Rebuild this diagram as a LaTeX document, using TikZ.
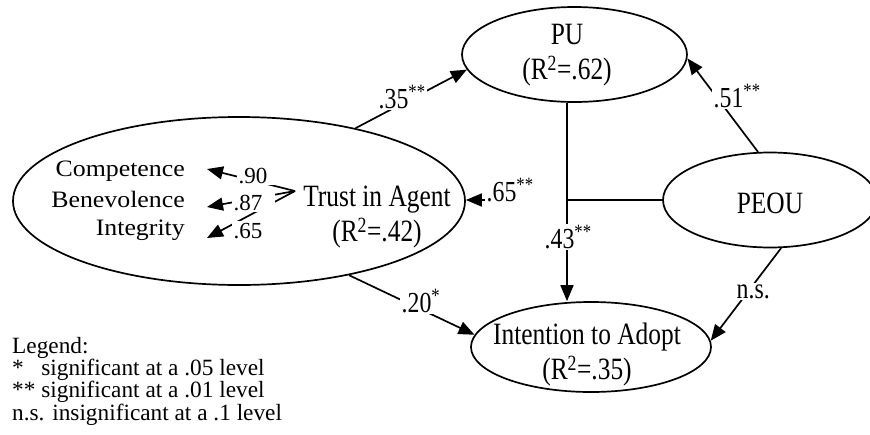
\documentclass[tikz,border=0pt]{standalone}
\usepackage{fontspec}
\setmainfont{Liberation Serif}
\newfontfamily\condfont{Liberation Serif}[FakeStretch=0.82]
\newfontfamily\widefont{Liberation Serif}[FakeStretch=1.1]
\usetikzlibrary{arrows.meta,shapes.geometric}

\tikzset{
  construct/.style={draw, ellipse, line width=1.7pt, inner sep=0pt},
  conlabel/.style={font=\condfont\fontsize{31}{35}\selectfont, align=center, inner sep=0pt},
  link/.style={line width=1.7pt},
  arr/.style={link, -{Triangle[length=16pt,width=13pt]}},
  coef/.style={font=\condfont\fontsize{29}{33}\selectfont, fill=white, inner sep=1.5pt},
  loading/.style={font=\fontsize{23}{27}\selectfont, fill=white, inner sep=1.5pt, align=left},
  indic/.style={font=\widefont\fontsize{23.5}{28}\selectfont, inner sep=0pt},
  legendtext/.style={font=\fontsize{23.3}{22.3}\selectfont, align=left, inner sep=0pt},
}

\begin{document}
\begin{tikzpicture}[x=1pt,y=-1pt]
\useasboundingbox (0,0) rectangle (870,434);

% latent constructs
\node[construct, minimum width=452pt, minimum height=168pt] (trust)  at (239,201)   {};
\node[construct, minimum width=225pt, minimum height=95pt]  (pu)     at (574.5,54.5) {};
\node[construct, minimum width=214pt, minimum height=95pt]  (peou)   at (770,200)   {};
\node[construct, minimum width=240pt, minimum height=90pt]  (intent) at (591,347)   {};

% construct names
\node[conlabel] (puT)     at (567,55.5) {PU\\(R\textsuperscript{2}=.62)};
\node[conlabel] (intentT) at (587,355)  {Intention to Adopt\\(R\textsuperscript{2}=.35)};
\node[conlabel, anchor=base] (peouT) at (770,213) {PEOU};
\node[conlabel] (trustT)  at (377,217)  {Trust in Agent\\(R\textsuperscript{2}=.42)};

% trust indicators
\node[indic, anchor=base east] (comp)  at (185,176) {Competence};
\node[indic, anchor=base east] (benev) at (185,207) {Benevolence};
\node[indic, anchor=base east] (integ) at (185,235) {Integrity};

\coordinate (o)        at (295,191);
\coordinate (compTip)  at (207,169);
\coordinate (benevTip) at (207,207);
\coordinate (integTip) at (207,238);
\coordinate (j)        at (567,200);

% measurement paths
\draw[arr] (o) -- (compTip);
\draw[arr] (o) -- (benevTip);
\draw[arr] (o) -- (integTip);

% structural paths
\draw[arr] (trust.32.4) -- (pu.188);
\draw[arr] (peou.104) -- (pu.358);
\draw[arr] (peou.west) -- (peou.west -| trust.east);
\draw[arr] (trust.326.5) -- (intent.174);
\draw[arr] (peou.283.5) -- (intent.3.5);

% path coefficients
\node[coef, anchor=base west] (c35) at (377,108) {.35\textsuperscript{**}};
\node[coef, anchor=base west] (c51) at (712,107) {.51\textsuperscript{**}};
\node[coef, anchor=base west, text width=78pt, align=left] (c65) at (485,201) {.65\textsuperscript{**}};
\node[coef, anchor=base west] (c20) at (400,312) {.20\textsuperscript{*}};
\node[coef, anchor=base west] (cns) at (735,298) {n.s.};

\draw[arr] (pu.south -| j) -- (intent.north -| j);
\node[coef, anchor=base west] (c43) at (543,248) {.43\textsuperscript{**}};

% factor loadings
\node[loading, anchor=base west, text width=38pt] (l90) at (237,183) {.90};
\node[loading, anchor=base west, text width=40pt] (l87) at (232,210) {.87};
\node[loading, anchor=base west] (l65) at (232,238) {.65};

% legend
\node[legendtext, anchor=north west] (legend) at (12,337) {Legend:\\
*\hphantom{*} significant at a .05 level\\
** significant at a .01 level\\
n.s. insignificant at a .1 level};
\end{tikzpicture}
\end{document}
